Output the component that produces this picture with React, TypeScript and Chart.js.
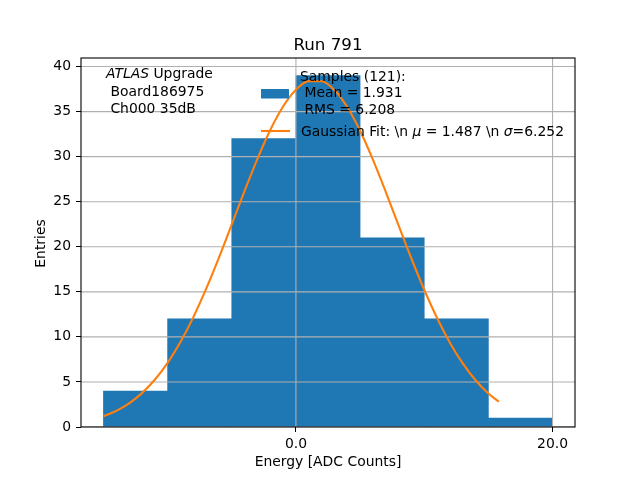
import React, { useEffect, useRef } from "react";
import { Chart, registerables } from "chart.js";

Chart.register(...registerables);

// ---- data ----
const binEdges = [-15, -10, -5, 0, 5, 10, 15, 20];
const binCounts = [4, 12, 32, 39, 21, 12, 1];
const fitX = [-15, -14, -13, -12, -11, -10, -9, -8, -7, -6, -5, -4, -3, -2, -1, 0, 1, 2, 3, 4, 5, 6, 7, 8, 9, 10, 11, 12, 13, 14, 15, 15.82];
const fitY = [1.19, 1.79, 2.63, 3.76, 5.24, 7.12, 9.43, 12.17, 15.32, 18.8, 22.48, 26.2, 29.76, 32.96, 35.57, 37.43, 38.38, 38.37, 37.39, 35.51, 32.88, 29.67, 26.1, 22.38, 18.7, 15.23, 12.1, 9.36, 7.06, 5.19, 3.72, 2.8];
const xTickValues = [0, 20];
const xTickLabels = ["0.0", "20.0"];
const yTickValues = [0, 5, 10, 15, 20, 25, 30, 35, 40];
const xRange = [-16.75, 21.75];
const yRange = [0, 40.95];

const titleText = "Run 791";
const xAxisLabel = "Energy [ADC Counts]";
const yAxisLabel = "Entries";
const annotationLines = [" Board186975", " Ch000 35dB"];
const sampleLegendLines = ["Samples (121):", " Mean = 1.931", " RMS = 6.208"];
const fitMu = "1.487";
const fitSigma = "6.252";

const BLUE = "#1f77b4";
const ORANGE = "#ff7f0e";
const FAMILY = '"DejaVu Sans"';
const FS = 13.9;

type Seg = [string, boolean];

function drawSegs(ctx: CanvasRenderingContext2D, x: number, y: number, segs: Seg[], size: number) {
  let cx = x;
  for (const [t, it] of segs) {
    ctx.font = `${it ? "italic " : ""}${size}px ${FAMILY}`;
    ctx.fillText(t, cx, y);
    cx += ctx.measureText(t).width;
  }
}

const overlayPlugin = {
  id: "overlay",
  afterDatasetDraw(chart: any, args: any) {
    if (args.index !== 0) return;
    const { ctx, chartArea: a, scales } = chart;
    ctx.save();
    ctx.beginPath();
    ctx.rect(a.left, a.top, a.right - a.left, a.bottom - a.top);
    ctx.clip();
    ctx.strokeStyle = "#b0b0b0";
    ctx.lineWidth = 1.1;
    for (const v of yTickValues) {
      const py = scales.y.getPixelForValue(v);
      ctx.beginPath();
      ctx.moveTo(a.left, py);
      ctx.lineTo(a.right, py);
      ctx.stroke();
    }
    for (const v of xTickValues) {
      const px = scales.x.getPixelForValue(v);
      ctx.beginPath();
      ctx.moveTo(px, a.top);
      ctx.lineTo(px, a.bottom);
      ctx.stroke();
    }
    ctx.restore();
  },
  afterDraw(chart: any) {
    const { ctx, chartArea: a } = chart;
    ctx.save();
    // spines
    ctx.strokeStyle = "#000";
    ctx.lineWidth = 1.1;
    ctx.strokeRect(a.left, a.top, a.right - a.left, a.bottom - a.top);

    ctx.fillStyle = "#000";
    ctx.textBaseline = "alphabetic";
    // title
    ctx.textAlign = "center";
    ctx.font = `16.7px ${FAMILY}`;
    ctx.fillText(titleText, (a.left + a.right) / 2, a.top - 8);
    // x label
    ctx.font = `${FS}px ${FAMILY}`;
    ctx.fillText(xAxisLabel, (a.left + a.right) / 2, a.bottom + 39);
    // y label
    ctx.save();
    ctx.translate(45, (a.top + a.bottom) / 2 + 1);
    ctx.rotate(-Math.PI / 2);
    ctx.fillText(yAxisLabel, 0, 0);
    ctx.restore();

    ctx.textAlign = "left";
    // annotation
    const ax = a.left + 25;
    drawSegs(ctx, ax, a.top + 20, [["ATLAS", true], [" Upgrade", false]], FS);
    ctx.font = `${FS}px ${FAMILY}`;
    annotationLines.forEach((l, i) => ctx.fillText(l, ax, a.top + 38 + i * 17.3));

    // legend
    const lx = 261;
    ctx.fillStyle = BLUE;
    ctx.fillRect(lx, a.top + 31, 28, 9.5);
    ctx.fillStyle = "#000";
    ctx.font = `${FS}px ${FAMILY}`;
    sampleLegendLines.forEach((l, i) => ctx.fillText(l, 300, a.top + 22.5 + i * 16.5));
    ctx.strokeStyle = ORANGE;
    ctx.lineWidth = 2.1;
    ctx.beginPath();
    ctx.moveTo(lx, a.top + 73);
    ctx.lineTo(lx + 29, a.top + 73);
    ctx.stroke();
    drawSegs(
      ctx,
      301,
      a.top + 77.5,
      [
        ["Gaussian Fit: \\n ", false],
        ["\u03bc", true],
        [` = ${fitMu} \\n `, false],
        ["\u03c3", true],
        [`=${fitSigma}`, false],
      ],
      FS
    );
    ctx.restore();
  },
};

export default function App() {
  const ref = useRef<HTMLCanvasElement | null>(null);
  useEffect(() => {
    if (!ref.current) return;
    const centers = binCounts.map((_, i) => (binEdges[i] + binEdges[i + 1]) / 2);
    const chart = new Chart(ref.current, {
      type: "bar",
      data: {
        datasets: [
          {
            type: "bar",
            data: centers.map((c, i) => ({ x: c, y: binCounts[i] })),
            backgroundColor: BLUE,
            borderWidth: 0,
            barPercentage: 1,
            categoryPercentage: 1,
            order: 2,
          } as any,
          {
            type: "line",
            data: fitX.map((x, i) => ({ x, y: fitY[i] })),
            borderColor: ORANGE,
            borderWidth: 2.1,
            pointRadius: 0,
            fill: false,
            cubicInterpolationMode: "monotone",
            order: 1,
          } as any,
        ],
      },
      options: {
        animation: false,
        responsive: true,
        maintainAspectRatio: false,
        devicePixelRatio: 1,
        layout: { padding: { top: 58, right: 65, left: 0, bottom: 0 } },
        plugins: { legend: { display: false }, tooltip: { enabled: false }, title: { display: false } },
        scales: {
          x: {
            type: "linear",
            min: xRange[0],
            max: xRange[1],
            offset: false,
            grid: { color: "rgba(0,0,0,0)", tickColor: "#000", tickLength: 5, drawTicks: true, offset: false },
            border: { display: false },
            ticks: {
              color: "#000",
              font: { family: "DejaVu Sans", size: FS },
              padding: 4,
              maxRotation: 0,
              callback: (_v: any, i: number) => xTickLabels[i],
            },
            afterBuildTicks: (s: any) => {
              s.ticks = xTickValues.map((v) => ({ value: v }));
            },
            afterFit: (s: any) => {
              s.height = 53;
            },
          },
          y: {
            type: "linear",
            min: yRange[0],
            max: yRange[1],
            grid: { color: "rgba(0,0,0,0)", tickColor: "#000", tickLength: 5, drawTicks: true },
            border: { display: false },
            ticks: {
              color: "#000",
              font: { family: "DejaVu Sans", size: FS },
              padding: 5,
              includeBounds: false,
              callback: (v: any) => String(v),
            },
            afterBuildTicks: (s: any) => {
              s.ticks = yTickValues.map((v) => ({ value: v }));
            },
            afterFit: (s: any) => {
              s.width = 81;
            },
          },
        },
      } as any,
      plugins: [overlayPlugin],
    });
    return () => chart.destroy();
  }, []);
  return (
    <div style={{ position: "absolute", left: 0, top: 0, width: 640, height: 480, background: "#fff" }}>
      <canvas ref={ref} />
    </div>
  );
}
